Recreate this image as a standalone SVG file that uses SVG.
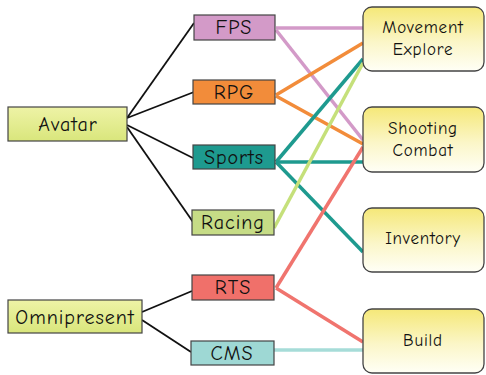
<svg xmlns="http://www.w3.org/2000/svg" width="486" height="375" viewBox="0 0 486 375">
<defs>
<linearGradient id="gy" x1="0" y1="0" x2="0" y2="1">
<stop offset="0" stop-color="#f5e878"/>
<stop offset="0.55" stop-color="#fbf6c8"/>
<stop offset="1" stop-color="#fffff6"/>
</linearGradient>
<linearGradient id="gg" x1="0" y1="0" x2="0" y2="1">
<stop offset="0" stop-color="#eef3a6"/>
<stop offset="1" stop-color="#d9e67c"/>
</linearGradient>
</defs>
<style>
text{font-family:"Comic Sans MS","Comic Neue","DejaVu Sans",sans-serif;font-size:17px;font-weight:normal;letter-spacing:0.8px;fill:#111;text-anchor:middle}
text.l{font-size:20px;letter-spacing:1px}
.sm{stroke:#444;stroke-width:1.2}
.rb{stroke:#444;stroke-width:1.3;fill:url(#gy)}
.k{stroke:#111;stroke-width:1.8;fill:none}
.c{stroke-width:3.5;fill:none}
</style>
<rect width="486" height="375" fill="#fff"/>
<g id="connectors">
<line class="k" x1="127" y1="118" x2="194" y2="23"/>
<line class="k" x1="127" y1="118" x2="194" y2="92"/>
<line class="k" x1="127" y1="125" x2="193" y2="158"/>
<line class="k" x1="127" y1="127" x2="193" y2="222"/>
<line class="k" x1="142" y1="312" x2="192" y2="291"/>
<line class="k" x1="142" y1="320" x2="191" y2="352"/>
<line class="c" stroke="#d39ac8" x1="276" y1="28" x2="363" y2="28"/>
<line class="c" stroke="#d39ac8" x1="276" y1="30" x2="363" y2="140"/>
<line class="c" stroke="#f28c3a" x1="276" y1="95" x2="363" y2="43"/>
<line class="c" stroke="#f28c3a" x1="276" y1="96" x2="363" y2="144"/>
<line class="c" stroke="#1e9a8f" x1="276" y1="162" x2="363" y2="59"/>
<line class="c" stroke="#1e9a8f" x1="276" y1="162" x2="363" y2="162"/>
<line class="c" stroke="#1e9a8f" x1="276" y1="162" x2="363" y2="252"/>
<line class="c" stroke="#c5e07a" x1="274" y1="228" x2="363" y2="63"/>
<line class="c" stroke="#f0746e" x1="276" y1="288" x2="363" y2="147"/>
<line class="c" stroke="#f0746e" x1="276" y1="288" x2="363" y2="342"/>
<line class="c" stroke="#a6dcd8" x1="274" y1="350" x2="363" y2="350"/>
</g>
<g id="avatar"><rect class="sm" x="8" y="107" width="119" height="34" fill="url(#gg)"/><text class="l" x="68" y="131">Avatar</text></g>
<g id="omnipresent"><rect class="sm" x="8" y="300" width="134" height="33" fill="url(#gg)"/><text class="l" x="75" y="324">Omnipresent</text></g>
<g id="fps"><rect class="sm" x="194" y="15" width="81" height="25" fill="#d39ac8"/><text class="l" x="234" y="34">FPS</text></g>
<g id="rpg"><rect class="sm" x="193" y="80" width="82" height="24" fill="#f28c3a"/><text class="l" x="234" y="99">RPG</text></g>
<g id="sports"><rect class="sm" x="193" y="145" width="82" height="24" fill="#1e9a8f"/><text class="l" x="234" y="164">Sports</text></g>
<g id="racing"><rect class="sm" x="192" y="210" width="82" height="25" fill="#c6dc86"/><text class="l" x="233" y="229">Racing</text></g>
<g id="rts"><rect class="sm" x="192" y="275" width="82" height="25" fill="#f0706a"/><text class="l" x="233" y="294">RTS</text></g>
<g id="cms"><rect class="sm" x="191" y="341" width="83" height="24" fill="#9ed8d4"/><text class="l" x="232" y="360">CMS</text></g>
<g id="movement"><rect class="rb" x="363" y="7" width="121" height="64" rx="9"/><text x="423" y="33">Movement</text><text x="423" y="55">Explore</text></g>
<g id="shooting"><rect class="rb" x="363" y="107" width="121" height="65" rx="9"/><text x="423" y="134">Shooting</text><text x="423" y="156">Combat</text></g>
<g id="inventory"><rect class="rb" x="363" y="208" width="121" height="64" rx="9"/><text x="423" y="244">Inventory</text></g>
<g id="build"><rect class="rb" x="363" y="309" width="121" height="64" rx="9"/><text x="423" y="346">Build</text></g>
</svg>
